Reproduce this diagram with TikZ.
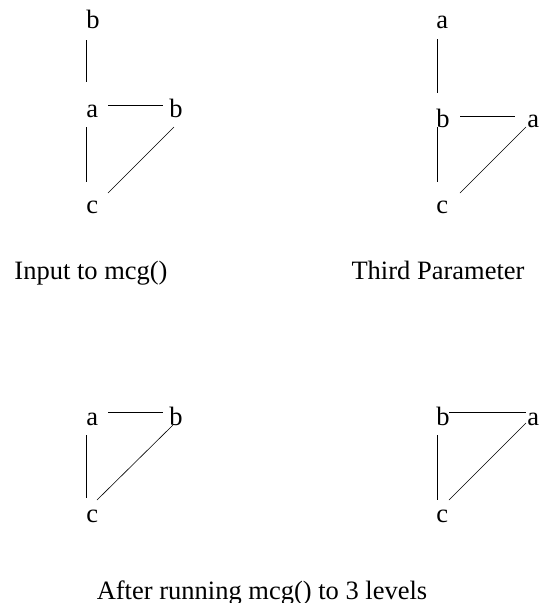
\documentclass[tikz,border=0pt]{standalone}
\usepackage{fontspec}
\setmainfont{Liberation Serif}

\begin{document}
\begin{tikzpicture}[x=1pt,y=-1pt,line width=0.6pt,every node/.style={font=\fontsize{26.5}{31}\selectfont,inner sep=0pt},vtx/.style={anchor=base west},capt/.style={anchor=base}]
\useasboundingbox (0,0) rectangle (540,603);
% input graph
\node[vtx] (ib1) at (86,28) {b};
\node[vtx] (ia) at (86,117) {a};
\node[vtx] (ib2) at (169,117) {b};
\node[vtx] (ic) at (86,213) {c};
\draw ([yshift=-12pt]ib1.base west)--([yshift=35pt]ia.base west);
\draw ([xshift=22pt,yshift=12pt]ia.base west)--([xshift=-6pt,yshift=12pt]ib2.base west);
\draw ([yshift=-10pt]ia.base west)--([yshift=31pt]ic.base west);
\draw ([xshift=5pt,yshift=-10pt]ib2.base west)--([xshift=22pt,yshift=20pt]ic.base west);
\node[capt] (incap) at (91,279) {Input to mcg()};
% third parameter
\node[vtx] (ta1) at (436,28) {a};
\node[vtx] (tb) at (436,127) {b};
\node[vtx] (ta2) at (527,127) {a};
\node[vtx] (tc) at (436,213) {c};
\draw ([xshift=1pt,yshift=-11pt]ta1.base west)--([xshift=1pt,yshift=34pt]tb.base west);
\draw ([xshift=24pt,yshift=11pt]tb.base west)--([xshift=-12pt,yshift=11pt]ta2.base west);
\draw ([xshift=1pt]tb.base west)--([xshift=1pt,yshift=31pt]tc.base west);
\draw ([xshift=-1pt]ta2.base west)--([xshift=24pt,yshift=20pt]tc.base west);
\node[capt] (thcap) at (438,279) {Third Parameter};
% after 3 levels
\node[vtx] (la) at (86,425) {a};
\node[vtx] (lb) at (169,425) {b};
\node[vtx] (lc) at (86,522) {c};
\draw ([xshift=22pt,yshift=13pt]la.base west)--([xshift=-6pt,yshift=13pt]lb.base west);
\draw ([yshift=-10pt]la.base west)--([yshift=24pt]lc.base west);
\draw ([xshift=4pt]lb.base west)--([xshift=11pt,yshift=22pt]lc.base west);
\node[vtx] (rb) at (436,425) {b};
\node[vtx] (ra) at (527,425) {a};
\node[vtx] (rc) at (436,522) {c};
\draw ([xshift=13pt,yshift=13pt]rb.base west)--([xshift=-1pt,yshift=13pt]ra.base west);
\draw ([xshift=1pt,yshift=-10pt]rb.base west)--([xshift=1pt,yshift=22pt]rc.base west);
\draw ([xshift=-1pt,yshift=2pt]ra.base west)--([xshift=13pt,yshift=22pt]rc.base west);
\node[capt] (afcap) at (262,599) {After running mcg() to 3 levels};
\end{tikzpicture}
\end{document}
